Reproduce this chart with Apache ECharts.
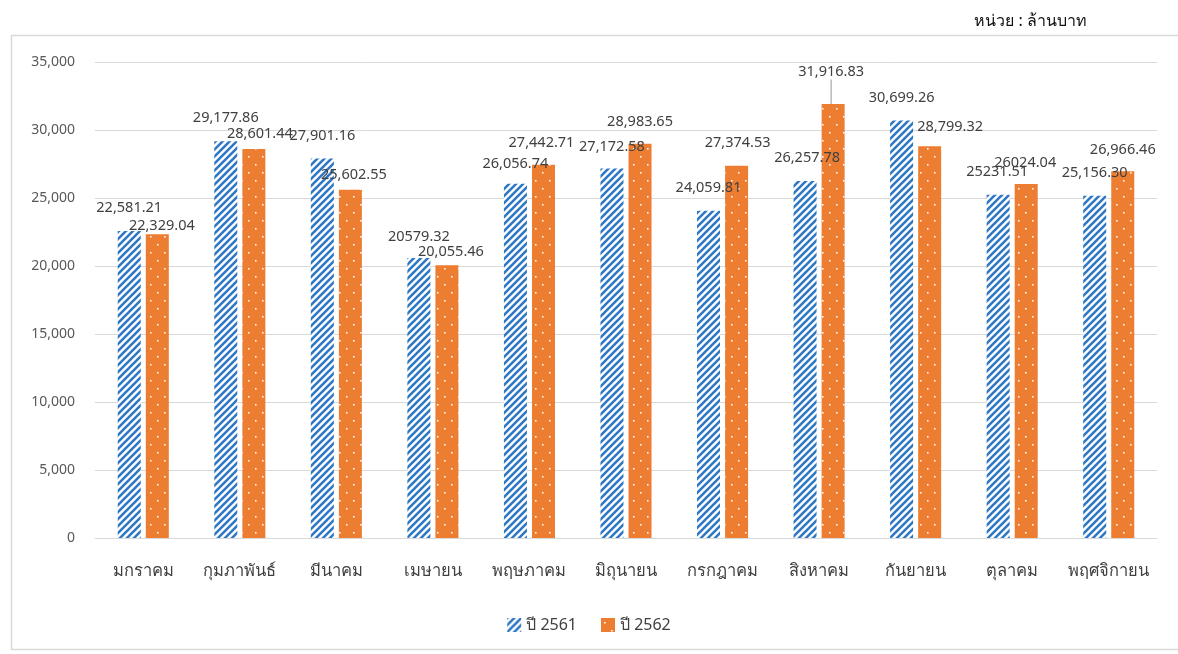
<!DOCTYPE html>
<html>
<head>
<meta charset="utf-8">
<script src="https://cdn.jsdelivr.net/npm/echarts@6/dist/echarts.min.js"></script>
<style>html,body{margin:0;padding:0;background:#fff}#c{width:1178px;height:654px}</style>
</head>
<body>
<div id="c"></div>
<script>
// ---- data ----
const categories = ['มกราคม','กุมภาพันธ์','มีนาคม','เมษายน','พฤษภาคม','มิถุนายน','กรกฎาคม','สิงหาคม','กันยายน','ตุลาคม','พฤศจิกายน'];
const values2561 = [22581.21, 29177.86, 27901.16, 20579.32, 26056.74, 27172.58, 24059.81, 26257.78, 30699.26, 25231.51, 25156.30];
const values2562 = [22329.04, 28601.44, 25602.55, 20055.46, 27442.71, 28983.65, 27374.53, 31916.83, 28799.32, 26024.04, 26966.46];
const labels2561 = ['22,581.21','29,177.86','27,901.16','20579.32','26,056.74','27,172.58','24,059.81','26,257.78','30,699.26','25231.51','25,156.30'];
const labels2562 = ['22,329.04','28,601.44','25,602.55','20,055.46','27,442.71','28,983.65','27,374.53','31,916.83','28,799.32','26024.04','26,966.46'];
const seriesNames = ['ปี 2561', 'ปี 2562'];
const yTicks = [0, 5000, 10000, 15000, 20000, 25000, 30000, 35000];

// label placement (label centre relative to bar top-centre), kept apart from data
const off2561 = [[0,-23],[0,-23],[0,-23],[0,-21],[0,-20],[0,-21.5],[0,-22.5],[2,-23],[0,-23],[-1,-23],[0,-23]];
const off2562 = [[4.5,-8],[6,-15],[3.5,-15],[4,-13],[-2,-22],[0,-22],[1,-22.5],[-2,-32],[20.5,-19.5],[-1,-21],[0,-21]];

// ---- patterns ----
function stripeCanvas(){
  const s = 7, c = document.createElement('canvas');
  c.width = s; c.height = s;
  const g = c.getContext('2d');
  g.fillStyle = '#ffffff'; g.fillRect(0,0,s,s);
  g.strokeStyle = '#2F78C4'; g.lineWidth = 2.6;
  g.beginPath();
  g.moveTo(-1, s+1); g.lineTo(s+1, -1);
  g.moveTo(-1, 1); g.lineTo(1, -1);
  g.moveTo(s-1, s+1); g.lineTo(s+1, s-1);
  g.stroke();
  return c;
}
function dotCanvas(){
  const w = 14, h = 16, c = document.createElement('canvas');
  c.width = w; c.height = h;
  const g = c.getContext('2d');
  g.fillStyle = '#ED7D31'; g.fillRect(0,0,w,h);
  g.fillStyle = 'rgba(255,255,255,0.95)';
  g.fillRect(3,4,1.6,1.6);
  g.fillRect(10,12,1.6,1.6);
  return c;
}
const stripePattern = { image: stripeCanvas(), repeat: 'repeat' };
const dotPattern = { image: dotCanvas(), repeat: 'repeat' };

const FONT = 'Noto Sans, DejaVu Sans, sans-serif';
const labelFont = { fontSize: 14.5, color: '#404040', fontFamily: FONT };

function layoutFor(offs){
  return function(p){
    const o = offs[p.dataIndex];
    return {
      x: p.rect.x + p.rect.width / 2 + o[0],
      y: p.rect.y + o[1],
      align: 'center',
      verticalAlign: 'middle'
    };
  };
}

const chart = echarts.init(document.getElementById('c'));
chart.setOption({
  animation: false,
  backgroundColor: '#fff',
  title: {
    text: 'หน่วย : ล้านบาท',
    right: 86, top: 8,
    textStyle: { fontSize: 16, fontWeight: 'normal', color: '#111', fontFamily: FONT }
  },
  graphic: [{
    type: 'rect', silent: true,
    shape: { x: 11.5, y: 35.5, width: 1185, height: 614 },
    style: { fill: 'none', stroke: '#d9d9d9', lineWidth: 1.5 }
  }],
  grid: { left: 95, right: 21, top: 62, bottom: 116, containLabel: false },
  legend: {
    bottom: 16, left: 'center',
    itemWidth: 14, itemHeight: 14, itemGap: 24,
    icon: 'rect',
    textStyle: { fontSize: 16, color: '#404040', fontFamily: FONT },
    data: seriesNames
  },
  xAxis: {
    type: 'category',
    data: categories,
    axisTick: { show: false },
    axisLine: { lineStyle: { color: '#d9d9d9', width: 1 } },
    axisLabel: { interval: 0, fontSize: 16.5, color: '#404040', margin: 25, fontFamily: FONT }
  },
  yAxis: {
    type: 'value',
    min: yTicks[0], max: yTicks[yTicks.length - 1], interval: yTicks[1] - yTicks[0],
    axisLine: { show: false }, axisTick: { show: false },
    splitLine: { lineStyle: { color: '#d9d9d9', width: 1 } },
    axisLabel: {
      fontSize: 14, color: '#595959', margin: 20, fontFamily: FONT,
      formatter: v => v.toLocaleString('en-US')
    }
  },
  series: [
    {
      name: seriesNames[0], type: 'bar',
      barWidth: 23, barGap: '22%',
      itemStyle: { color: stripePattern },
      data: values2561,
      label: { show: true, position: 'top', formatter: p => labels2561[p.dataIndex], ...labelFont },
      labelLayout: layoutFor(off2561)
    },
    {
      name: seriesNames[1], type: 'bar',
      barWidth: 23,
      itemStyle: { color: dotPattern },
      data: values2562.map((v, i) => i === 7
        ? { value: v, labelLine: { show: true, length2: 0, lineStyle: { color: '#a6a6a6', width: 1.2 } } }
        : v),
      label: { show: true, position: 'top', formatter: p => labels2562[p.dataIndex], ...labelFont },
      labelLine: { show: false },
      labelLayout: layoutFor(off2562)
    }
  ]
});
</script>
</body>
</html>
